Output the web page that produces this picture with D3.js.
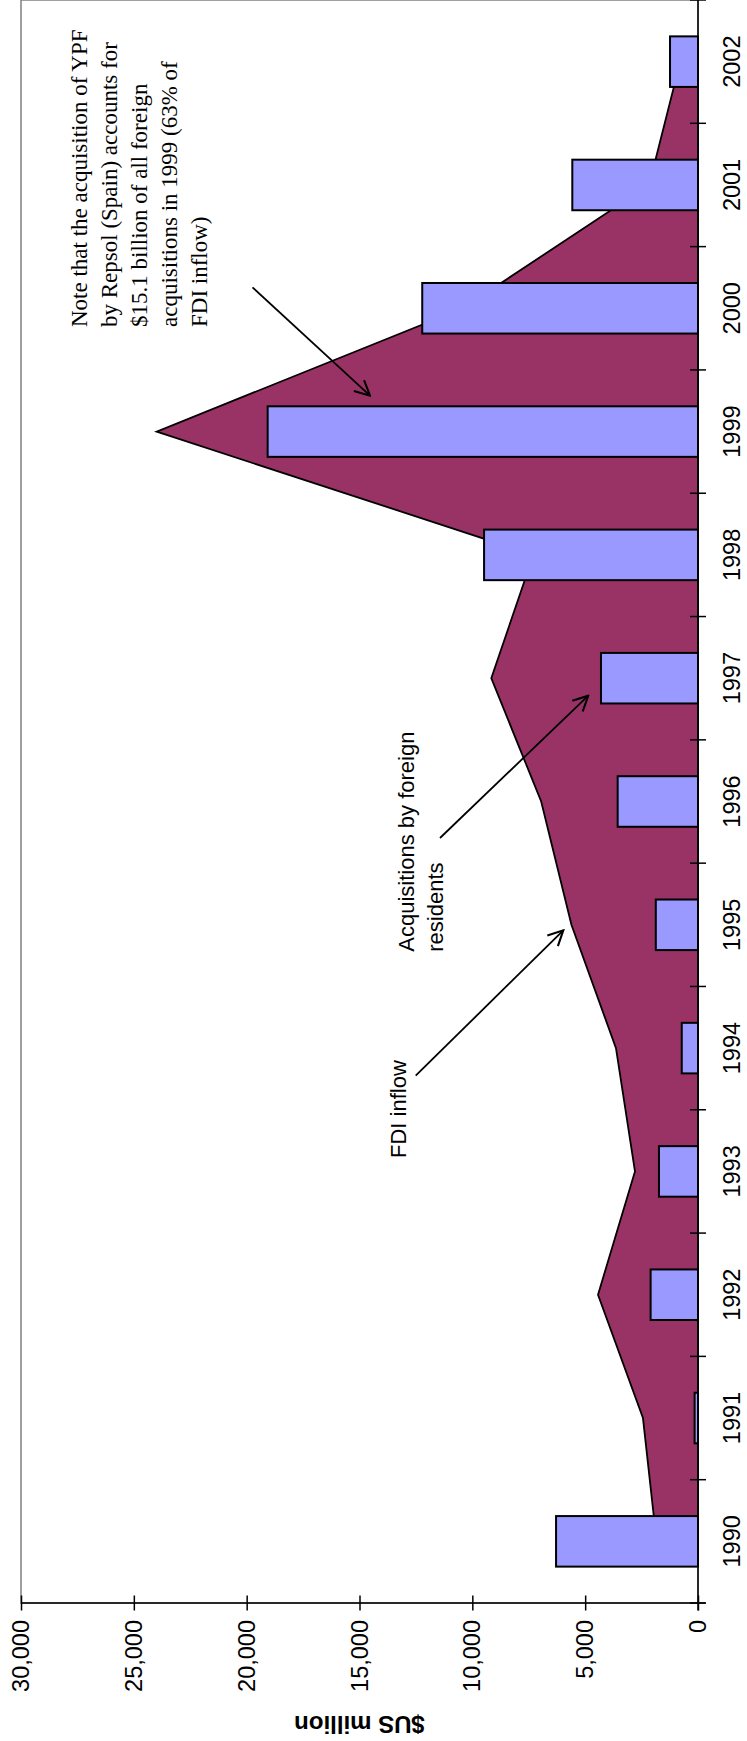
<!DOCTYPE html>
<html>
<head>
<meta charset="utf-8">
<script src="https://cdn.jsdelivr.net/npm/d3@7"></script>
<style>
  body { margin: 0; background: #fff; }
  svg { display: block; }
</style>
</head>
<body>
<div id="chart"></div>
<script>
// Data ($US million)
const years = ["1990", "1991", "1992", "1993", "1994", "1995", "1996",
               "1997", "1998", "1999", "2000", "2001", "2002"];
const fdiInflow = [1836, 2439, 4431, 2793, 3635, 5609, 6949, 9160, 7291, 23988, 10418, 2166, 785];
const acquisitions = [6290, 150, 2100, 1730, 720, 1870, 3560, 4300, 9480, 19070, 12220, 5570, 1240];
const valueTicks = [0, 5000, 10000, 15000, 20000, 25000, 30000];
const axisTitle = "$US million";
const noteLines = [
  "Note that the acquisition of YPF",
  "by Repsol (Spain) accounts for",
  "$15.1 billion of all foreign",
  "acquisitions in 1999 (63% of",
  "FDI inflow)"
];
const acqLabel = ["Acquisitions by foreign", "residents"];
const fdiLabel = "FDI inflow";

const pageW = 747, pageH = 1741;
// The chart is drawn as a normal column chart and then turned -90 degrees
const W = 1603, H = 677;   // plot size in the unrotated frame
const originX = 21, originY = 1603;

const svg = d3.select("#chart").append("svg")
  .attr("width", pageW)
  .attr("height", pageH);

svg.append("defs").append("marker")
  .attr("id", "open-arrow")
  .attr("viewBox", "0 0 12 12")
  .attr("refX", 11).attr("refY", 6)
  .attr("markerWidth", 18).attr("markerHeight", 18)
  .attr("markerUnits", "userSpaceOnUse")
  .attr("orient", "auto")
  .append("path")
  .attr("d", "M1,1 L11,6 L1,11")
  .attr("fill", "none")
  .attr("stroke", "#000")
  .attr("stroke-width", 1.4);

const g = svg.append("g")
  .attr("transform", "translate(" + originX + "," + originY + ") rotate(-90)");

const x = d3.scaleBand().domain(years).range([0, W]).padding(0);
const bw = x.bandwidth();
const y = d3.scaleLinear().domain([0, 30000]).range([H, 0]);

// plot area border
g.append("rect")
  .attr("x", 0).attr("y", 0)
  .attr("width", W).attr("height", H)
  .attr("fill", "none")
  .attr("stroke", "#808080")
  .attr("stroke-width", 1.5);

// FDI inflow area
const area = d3.area()
  .x((d, i) => x(years[i]) + bw / 2)
  .y0(y(0))
  .y1(d => y(d));

g.append("path")
  .datum(fdiInflow)
  .attr("d", area)
  .attr("fill", "#993366")
  .attr("stroke", "#000")
  .attr("stroke-width", 1.8)
  .attr("stroke-linejoin", "miter");

// acquisitions bars
const barW = bw * 0.41;
g.selectAll(".bar")
  .data(acquisitions)
  .enter()
  .append("rect")
  .attr("class", "bar")
  .attr("x", (d, i) => x(years[i]) + (bw - barW) / 2)
  .attr("y", d => y(d))
  .attr("width", barW)
  .attr("height", d => y(0) - y(d))
  .attr("fill", "#9999FF")
  .attr("stroke", "#000")
  .attr("stroke-width", 2);

// category axis (labels from the axis, ticks between categories)
const xAxis = g.append("g")
  .attr("transform", "translate(0," + H + ")")
  .call(d3.axisBottom(x).tickSize(0).tickPadding(25));
xAxis.select(".domain").remove();
xAxis.selectAll("text")
  .attr("font-family", "'Liberation Sans', Arial, sans-serif")
  .attr("font-size", "23.5px")
  .attr("fill", "#000");

const edges = years.map(yr => x(yr)).concat([W]);
g.selectAll(".xtick")
  .data(edges)
  .enter()
  .append("line")
  .attr("class", "xtick")
  .attr("x1", d => d).attr("x2", d => d)
  .attr("y1", H - 8).attr("y2", H + 8)
  .attr("stroke", "#000")
  .attr("stroke-width", 1.5);

g.append("line")
  .attr("x1", -7.5).attr("x2", W)
  .attr("y1", H).attr("y2", H)
  .attr("stroke", "#000")
  .attr("stroke-width", 1.5);

// value axis
const yAxis = g.append("g")
  .call(d3.axisLeft(y)
    .tickValues(valueTicks)
    .tickFormat(d3.format(","))
    .tickSizeInner(7.5)
    .tickSizeOuter(0)
    .tickPadding(9.5));
yAxis.select(".domain").remove();
yAxis.selectAll(".tick line")
  .attr("x1", 7.5)
  .attr("stroke", "#000")
  .attr("stroke-width", 1.5);
yAxis.selectAll("text")
  .attr("font-family", "'Liberation Sans', Arial, sans-serif")
  .attr("font-size", "23.5px")
  .attr("fill", "#000");

g.append("line")
  .attr("x1", 0).attr("x2", 0)
  .attr("y1", 0).attr("y2", H + 7.5)
  .attr("stroke", "#000")
  .attr("stroke-width", 1.5);

// axis title
g.append("text")
  .attr("transform", "translate(-112.5," + (H / 2) + ") rotate(-90)")
  .attr("text-anchor", "middle")
  .attr("font-family", "'Liberation Sans', Arial, sans-serif")
  .attr("font-weight", "bold")
  .attr("font-size", "24px")
  .text(axisTitle);

// annotations
const note = g.append("text")
  .attr("font-family", "'Liberation Serif', 'Times New Roman', serif")
  .attr("font-size", "23px")
  .attr("fill", "#000");
noteLines.forEach((t, i) => {
  note.append("tspan")
    .attr("x", 1276)
    .attr("y", 66 + i * 30)
    .text(t);
});

const acq = g.append("text")
  .attr("font-family", "'Liberation Sans', Arial, sans-serif")
  .attr("font-size", "22px")
  .attr("fill", "#000");
acqLabel.forEach((t, i) => {
  acq.append("tspan")
    .attr("x", 651.3)
    .attr("y", 392.5 + i * 29.5)
    .text(t);
});

g.append("text")
  .attr("x", 445)
  .attr("y", 385)
  .attr("font-family", "'Liberation Sans', Arial, sans-serif")
  .attr("font-size", "22px")
  .attr("fill", "#000")
  .text(fdiLabel);

const arrows = [
  [[1315.7, 231.5], [1207.3, 349]],
  [[765, 419], [907.3, 567.3]],
  [[527.3, 394.7], [672.7, 542.3]]
];
g.selectAll(".arrow")
  .data(arrows)
  .enter()
  .append("path")
  .attr("class", "arrow")
  .attr("d", d => d3.line()(d))
  .attr("fill", "none")
  .attr("stroke", "#000")
  .attr("stroke-width", 1.8)
  .attr("marker-end", "url(#open-arrow)");
</script>
</body>
</html>
